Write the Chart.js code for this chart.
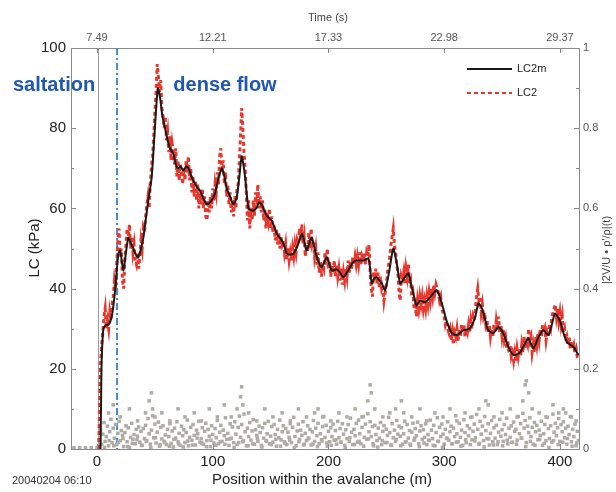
<!DOCTYPE html>
<html>
<head>
<meta charset="utf-8">
<script src="https://cdn.jsdelivr.net/npm/chart.js@4.4.0/dist/chart.umd.min.js"></script>
<style>
html, body { margin: 0; padding: 0; background: #fff; }
</style>
</head>
<body>
<canvas id="chart" width="616" height="492"></canvas>
<script>
// LC2m: smoothed load cell pressure (kPa) vs position (m)
var lc2mPoints = [[3,0],[3.5,12],[4,22],[5.5,30],[8,31],[10,31],[12.7,33],[15.6,39.5],[18.4,48.7],[20,49.5],[22.7,44.5],[25,49],[27,52.7],[29,51.5],[31.4,50],[33.5,48.5],[35.7,47.8],[38,50],[40,52.7],[42,57],[44.3,62],[47.2,67.7],[50,80],[52.5,90],[54.5,87.6],[56.5,83],[58.8,80],[61,77],[63,75],[66,73.6],[68,71],[70,70],[72,70.5],[74.6,69.4],[77,70.5],[79,70],[81,68.5],[83,67],[86,65.5],[89,64.4],[92,62.5],[94.8,61],[97.7,61.5],[100.5,62.7],[102,63.7],[104,66.5],[107.8,70],[110,68],[112,65],[115,63],[117.8,61],[120.7,62.7],[123,68],[125,73],[127,70],[128,67.7],[130.8,60],[133,59.6],[135,59.4],[138,60.2],[140,61.5],[142.3,61],[144.5,59.5],[146.6,58.2],[149,57.5],[151,57],[153,55.5],[155.3,53.7],[159.6,52],[162,50.5],[164,48.7],[167,48.5],[169.7,48.7],[172.6,50.2],[175,52],[177,53.7],[179,52],[181,49.5],[183,51],[185.5,52.7],[188,50],[190,47.8],[194,45.3],[198.5,47.8],[202.8,44.5],[207,44.8],[210,44],[213,42.8],[216,44],[218.7,45.3],[221,46.5],[224.4,47],[230,47],[234.5,47.5],[236,45],[237.4,41.3],[239.5,42.5],[241.7,42.8],[244,42],[246,41.3],[249,39.6],[252.6,44.5],[256,50],[259,46.3],[262,41.3],[266,42.8],[269,43.8],[272,40.3],[274,38],[276,35.8],[279,37],[283.5,36.6],[287.8,37.8],[291,39],[293.6,39.6],[298,36.3],[302,32],[306.5,28.9],[311,28.4],[316.6,29.6],[322,30],[326.7,32.8],[329.5,36.3],[332,35.5],[334,33.8],[338,29.6],[342.5,28.9],[347,30.4],[351,28.9],[355.5,25.4],[360,23.4],[365.6,24.1],[370,26.4],[372.8,27.6],[377,25.1],[381.5,27.9],[385.7,29.6],[390,28.4],[393,31],[395.8,33.8],[400,32],[403,29],[406,26.6],[409,26],[412,25.4],[416,23.4]];

// LC2: raw load cell pressure (kPa)
var lc2Points = [[1.5,0],[2,8],[2.5,15],[3,21],[4,26],[5,29],[6,33],[7,35],[8,30],[9,32],[10,30],[11,34],[12,32],[13,36],[14,38],[15,42],[16,40],[17,46],[18,52],[19,55],[20,48],[21,50],[22,42],[23,40],[24,47],[25,51],[26,55],[27,53],[28,56],[29,50],[30,53],[31,49],[32,51],[33,47],[34,46],[35,49],[36,45],[37,48],[38,52],[39,50],[40,55],[41,54],[42,58],[43,61],[44,63],[45,60],[46,66],[47,70],[48,73],[49,78],[50,84],[51,89],[52,96],[53,93],[54,89],[55,92],[56,85],[57,83],[58,80],[59,83],[60,77],[61,79],[62,74],[63,78],[64,72],[65,76],[66,74],[67,71],[68,75],[69,68],[70,72],[71,67],[72,71],[73,69],[74,66],[75,70],[76,67],[77,72],[78,69],[79,73],[80,67],[81,70],[82,64],[83,68],[84,63],[85,67],[86,62],[87,66],[88,60],[89,64],[90,61],[91,65],[92,60],[93,63],[94,58],[95,57],[96,62],[97,59],[98,63],[99,60],[100,65],[101,62],[102,66],[103,64],[104,69],[105,66],[106,73],[107,75],[108,69],[109,72],[110,66],[111,69],[112,63],[113,66],[114,61],[115,64],[116,59],[117,62],[118,58],[119,63],[120,60],[121,65],[122,66],[123,72],[124,78],[125,85],[126,80],[127,74],[128,70],[129,64],[130,57],[131,62],[132,55],[133,60],[134,57],[135,62],[136,58],[137,64],[138,61],[139,66],[140,60],[141,63],[142,59],[143,62],[144,57],[145,60],[146,55],[147,59],[148,57],[149,60],[150,55],[151,58],[152,54],[153,56],[154,52],[155,55],[156,51],[157,54],[158,50],[159,53],[160,51],[161,52],[162,49],[163,51],[164,47],[165,50],[166,47],[167,49],[168,47],[169,50],[170,48],[171,51],[172,49],[173,52],[174,51],[175,55],[176,52],[177,56],[178,51],[179,53],[180,48],[181,51],[182,49],[183,54],[184,50],[185,55],[186,51],[187,52],[188,48],[189,50],[190,46],[191,49],[192,44],[193,47],[194,43],[195,46],[196,45],[197,49],[198,46],[199,50],[200,45],[201,47],[202,43],[203,46],[204,44],[205,47],[206,43],[207,46],[208,43],[209,45],[210,42],[211,45],[212,41],[213,44],[214,42],[215,45],[216,43],[217,47],[218,44],[219,47],[220,45],[221,48],[222,46],[223,48],[224,46],[225,48],[226,46],[227,49],[228,46],[229,48],[230,47],[231,49],[232,46],[233,49],[234,48],[235,51],[236,44],[237,40],[238,38],[239,44],[240,42],[241,45],[242,41],[243,44],[244,40],[245,43],[246,40],[247,41],[248,37],[249,39],[250,41],[251,44],[252,46],[253,48],[254,51],[255,53],[256,55],[257,51],[258,49],[259,46],[260,44],[261,39],[262,37],[263,43],[264,42],[265,44],[266,41],[267,45],[268,43],[269,46],[270,41],[271,42],[272,38],[273,39],[274,35],[275,36],[276,33],[277,37],[278,35],[279,38],[280,36],[281,38],[282,35],[283,37],[284,35],[285,38],[286,36],[287,39],[288,37],[289,40],[290,38],[291,41],[292,39],[293,41],[294,40],[295,39],[296,37],[297,38],[298,35],[299,34],[300,33],[301,31],[302,32],[303,30],[304,29],[305,30],[306,27],[307,29],[308,26],[309,29],[310,28],[311,30],[312,27],[313,30],[314,28],[315,31],[316,29],[317,31],[318,28],[319,30],[320,29],[321,31],[322,29],[323,32],[324,30],[325,33],[326,32],[327,35],[328,38],[329,40],[330,37],[331,38],[332,34],[333,36],[334,33],[335,34],[336,31],[337,32],[338,29],[339,31],[340,28],[341,30],[342,28],[343,31],[344,29],[345,32],[346,30],[347,33],[348,29],[349,31],[350,28],[351,30],[352,27],[353,28],[354,25],[355,27],[356,24],[357,26],[358,23],[359,24],[360,22],[361,24],[362,22],[363,25],[364,23],[365,25],[366,23],[367,26],[368,24],[369,28],[370,25],[371,27],[372,26],[373,30],[374,27],[375,28],[376,24],[377,26],[378,24],[379,28],[380,26],[381,29],[382,27],[383,30],[384,28],[385,31],[386,29],[387,30],[388,27],[389,29],[390,28],[391,31],[392,30],[393,33],[394,34],[395,35],[396,36],[397,33],[398,35],[399,32],[400,34],[401,31],[402,33],[403,29],[404,30],[405,27],[406,28],[407,26],[408,28],[409,25],[410,27],[411,25],[412,26],[413,24],[414,25],[415,23],[416,23]];

// |2V/U * rho'/rho|(t), right axis: main band
var grayLow = [[-20,.003],[-15,.003],[-10,.003],[-5,.003],[0,.004],
[2,.023],[3,.048],[4,.012],[5,.037],[6,.066],[7,.019],[8,.031],[9,.057],[10,.008],[11,.043],[12,.074],[13,.016],[14,.052],[15,.027],[16,.061],[17,.011],[18,.039],[19,.069],[20,.021],[21,.046],
[22,.034],[23,.006],[24,.041],[25,.058],[26,.018],[27,.053],[28,.004],[29,.029],[30,.064],[31,.024],[32,.036],[33,.013],[34,.049],[35,.032],[36,.055],[37,.017],[38,.044],[39,.009],[40,.051],[41,.026],
[42,.059],[43,.021],[44,.076],[45,.038],[46,.012],[47,.047],[48,.083],[49,.028],[50,.062],[51,.015],[52,.042],[53,.067],[54,.007],[55,.054],[56,.025],[57,.058],[58,.019],[59,.035],[60,.011],[61,.049],
[62,.031],[63,.063],[64,.014],[65,.045],[66,.005],[67,.052],[68,.027],[69,.068],[70,.018],[71,.039],[72,.009],[73,.057],[74,.033],[75,.048],[76,.016],[77,.041],[78,.072],[79,.008],[80,.029],[81,.054],
[82,.022],[83,.061],[84,.034],[85,.010],[86,.047],[87,.038],[88,.069],[89,.017],[90,.026],[91,.053],[92,.012],[93,.044],[94,.064],[95,.021],[96,.049],[97,.032],[98,.006],[99,.058],[100,.036],[101,.015],
[102,.051],[103,.028],[104,.071],[105,.013],[106,.042],[107,.059],[108,.019],[109,.047],[110,.033],[111,.078],[112,.024],[113,.039],[114,.009],[115,.063],[116,.027],[117,.055],[118,.016],[119,.068],[120,.037],[121,.011],
[122,.054],[123,.082],[124,.029],[125,.061],[126,.018],[127,.087],[128,.043],[129,.008],[130,.052],[131,.031],[132,.066],[133,.022],[134,.045],[135,.073],[136,.012],[137,.048],[138,.034],[139,.019],[140,.057],[141,.041],
[142,.009],[143,.053],[144,.027],[145,.064],[146,.021],[147,.038],[148,.069],[149,.013],[150,.032],[151,.056],[152,.017],[153,.061],[154,.036],[155,.007],[156,.049],[157,.028],[158,.072],[159,.023],[160,.043],[161,.058],
[162,.018],[163,.051],[164,.011],[165,.042],[166,.029],[167,.063],[168,.016],[169,.054],[170,.079],[171,.031],[172,.008],[173,.045],[174,.062],[175,.024],[176,.047],[177,.034],[178,.068],[179,.012],[180,.039],[181,.021],
[182,.058],[183,.027],[184,.049],[185,.010],[186,.043],[187,.071],[188,.019],[189,.052],[190,.033],[191,.064],[192,.013],[193,.038],[194,.023],[195,.056],[196,.081],[197,.029],[198,.059],[199,.007],[200,.044],[201,.018],
[202,.053],[203,.031],[204,.062],[205,.022],[206,.046],[207,.012],[208,.069],[209,.028],[210,.051],[211,.017],[212,.063],[213,.037],[214,.009],[215,.048],[216,.026],[217,.061],[218,.019],[219,.077],[220,.042],[221,.011],
[222,.049],[223,.033],[224,.064],[225,.017],[226,.072],[227,.038],[228,.013],[229,.054],[230,.081],[231,.029],[232,.062],[233,.024],[234,.088],[235,.043],[236,.068],[237,.031],[238,.056],[239,.008],[240,.059],[241,.036],
[242,.021],[243,.052],[244,.027],[245,.066],[246,.011],[247,.044],[248,.058],[249,.016],[250,.049],[251,.034],[252,.079],[253,.041],[254,.009],[255,.063],[256,.028],[257,.047],[258,.019],[259,.071],[260,.037],[261,.057],
[262,.032],[263,.053],[264,.012],[265,.038],[266,.069],[267,.018],[268,.061],[269,.027],[270,.046],[271,.009],[272,.042],[273,.064],[274,.022],[275,.051],[276,.033],[277,.067],[278,.013],[279,.045],[280,.058],[281,.024],
[282,.048],[283,.029],[284,.063],[285,.011],[286,.036],[287,.021],[288,.072],[289,.047],[290,.026],[291,.059],[292,.008],[293,.041],[294,.078],[295,.019],[296,.054],[297,.031],[298,.062],[299,.037],[300,.012],[301,.049],
[302,.027],[303,.068],[304,.022],[305,.043],[306,.057],[307,.013],[308,.052],[309,.031],[310,.083],[311,.038],[312,.018],[313,.064],[314,.029],[315,.047],[316,.009],[317,.073],[318,.041],[319,.016],[320,.058],[321,.033],
[322,.051],[323,.079],[324,.023],[325,.044],[326,.062],[327,.028],[328,.086],[329,.049],[330,.012],[331,.069],[332,.037],[333,.057],[334,.021],[335,.081],[336,.046],[337,.026],[338,.063],[339,.010],[340,.039],[341,.071],
[342,.018],[343,.053],[344,.027],[345,.059],[346,.011],[347,.042],[348,.074],[349,.032],[350,.048],[351,.019],[352,.061],[353,.036],[354,.077],[355,.013],[356,.052],[357,.029],[358,.058],[359,.017],[360,.067],[361,.044],
[362,.049],[363,.022],[364,.081],[365,.038],[366,.063],[367,.027],[368,.089],[369,.052],[370,.071],[371,.016],[372,.057],[373,.041],[374,.078],[375,.031],[376,.054],[377,.012],[378,.066],[379,.043],[380,.059],[381,.023],
[382,.047],[383,.034],[384,.069],[385,.009],[386,.038],[387,.061],[388,.021],[389,.079],[390,.051],[391,.026],[392,.058],[393,.017],[394,.087],[395,.042],[396,.064],[397,.033],[398,.053],[399,.076],[400,.019],[401,.061],
[402,.043],[403,.068],[404,.028],[405,.052],[406,.012],[407,.057],[408,.036],[409,.081],[410,.018],[411,.049],[412,.031],[413,.062],[414,.008],[415,.044],[416,.021]];

// same ratio: points packed close to zero
var grayFloor = [[2.5,.012],[6.5,.004],[10.5,.021],[14.5,.008],[18.5,.017],[22.5,.026],[26.5,.006],[30.5,.014],[34.5,.023],[38.5,.009],[42.5,.019],[46.5,.003],[50.5,.028],[54.5,.011],[58.5,.016],[62.5,.007],[66.5,.024],[70.5,.013],[74.5,.005],[78.5,.02],
[82.5,.01],[86.5,.027],[90.5,.015],[94.5,.006],[98.5,.022],[102.5,.009],[106.5,.018],[110.5,.012],[114.5,.025],[118.5,.004],[122.5,.016],[126.5,.021],[130.5,.008],[134.5,.013],[138.5,.027],[142.5,.005],[146.5,.019],[150.5,.011],[154.5,.024],[158.5,.007],
[162.5,.014],[166.5,.022],[170.5,.003],[174.5,.018],[178.5,.01],[182.5,.026],[186.5,.012],[190.5,.006],[194.5,.02],[198.5,.015],[202.5,.009],[206.5,.023],[210.5,.017],[214.5,.004],[218.5,.028],[222.5,.011],[226.5,.019],[230.5,.007],[234.5,.025],[238.5,.013],
[242.5,.005],[246.5,.021],[250.5,.016],[254.5,.01],[258.5,.024],[262.5,.008],[266.5,.018],[270.5,.012],[274.5,.027],[278.5,.006],[282.5,.015],[286.5,.022],[290.5,.009],[294.5,.019],[298.5,.004],[302.5,.026],[306.5,.013],[310.5,.017],[314.5,.007],[318.5,.023],
[322.5,.011],[326.5,.02],[330.5,.014],[334.5,.005],[338.5,.025],[342.5,.01],[346.5,.018],[350.5,.008],[354.5,.022],[358.5,.016],[362.5,.012],[366.5,.027],[370.5,.006],[374.5,.019],[378.5,.009],[382.5,.024],[386.5,.014],[390.5,.004],[394.5,.021],[398.5,.011],
[402.5,.017],[406.5,.026],[410.5,.007],[414.5,.015]];

// sparse higher points of the same ratio
var grayHigh = [[10,.09],[14,.11],[20,.08],[28,.1],[35,.07],[42,.09],[45,.12],[47,.14],[48,.1],[50,.08],[56,.09],[63,.07],[70,.1],[76,.08],[84,.09],[90,.07],[97,.1],[104,.08],[110,.11],[116,.08],[121,.1],[124,.13],[125,.155],[126,.11],[131,.09],[138,.07],[145,.1],[152,.08],[160,.09],[167,.07],[174,.1],[181,.08],[188,.09],[191,.1],[195,.08],[202,.07],[209,.09],[216,.08],[223,.1],[229,.08],[234,.12],[236,.16],[237,.14],[240,.1],[247,.08],[253,.09],[258,.1],[263,.12],[265,.09],[272,.08],[279,.1],[285,.07],[292,.09],[299,.08],[305,.1],[311,.07],[318,.09],[324,.08],[330,.1],[336,.12],[338,.11],[343,.08],[350,.09],[357,.1],[363,.08],[368,.12],[370,.16],[371,.17],[373,.14],[376,.1],[382,.09],[388,.08],[394,.11],[399,.09],[403,.1],[405,.09],[410,.08],[414,.07]];

var positionTicks = [0, 100, 200, 300, 400];
var timeTickLabels = ['7.49', '12.21', '17.33', '22.98', '29.37'];
var lcTicks = [0, 20, 40, 60, 80, 100];
var ratioTicks = [0, 0.2, 0.4, 0.6, 0.8, 1];
var recordStart = 1;      // position of the 7.49 s mark line
var saltationEnd = 17.3;  // saltation / dense flow boundary

var FONT = "'Liberation Sans', Arial, sans-serif";

function toXY(arr) {
    return arr.map(function (p) { return { x: p[0], y: p[1] }; });
}

var decor = {
    id: 'decor',
    beforeDatasetsDraw: function (chart) {
        var ctx = chart.ctx, a = chart.chartArea, x = chart.scales.x;
        ctx.save();
        // thin grey line at start of record
        var gx = Math.round(x.getPixelForValue(recordStart)) + 0.5;
        ctx.strokeStyle = '#9a9a9a';
        ctx.lineWidth = 1;
        ctx.beginPath(); ctx.moveTo(gx, a.top); ctx.lineTo(gx, a.bottom); ctx.stroke();
        // blue dash-dot separator
        var bx = x.getPixelForValue(saltationEnd);
        ctx.strokeStyle = '#4a8ad4';
        ctx.lineWidth = 2;
        ctx.setLineDash([7, 3, 2, 3]);
        ctx.beginPath(); ctx.moveTo(bx, a.top); ctx.lineTo(bx, a.bottom); ctx.stroke();
        ctx.restore();
    },
    afterDraw: function (chart) {
        var ctx = chart.ctx, a = chart.chartArea;
        var sx = chart.scales.x, sy = chart.scales.y, sy2 = chart.scales.y2;
        ctx.save();

        // inside tick marks
        ctx.strokeStyle = '#8a8a8a';
        ctx.lineWidth = 1;
        ctx.beginPath();
        positionTicks.forEach(function (v) {
            var px = Math.round(sx.getPixelForValue(v)) + 0.5;
            ctx.moveTo(px, a.bottom); ctx.lineTo(px, a.bottom - 5);
            ctx.moveTo(px, a.top); ctx.lineTo(px, a.top + 5);
        });
        for (var v = 0; v <= 100; v += 10) {
            var py = Math.round(sy.getPixelForValue(v)) + 0.5;
            var len = v % 20 === 0 ? 5 : 3;
            ctx.moveTo(a.left, py); ctx.lineTo(a.left + len, py);
            var py2 = Math.round(sy2.getPixelForValue(v / 100)) + 0.5;
            ctx.moveTo(a.right, py2); ctx.lineTo(a.right - len, py2);
        }
        ctx.stroke();

        // legend
        var lx0 = 467, lx1 = 512;
        ctx.lineWidth = 2;
        ctx.strokeStyle = chart.data.datasets[0].borderColor;
        ctx.beginPath(); ctx.moveTo(lx0, 69); ctx.lineTo(lx1, 69); ctx.stroke();
        ctx.strokeStyle = chart.data.datasets[1].borderColor;
        ctx.setLineDash([4, 3]);
        ctx.beginPath(); ctx.moveTo(lx0, 93); ctx.lineTo(lx1, 93); ctx.stroke();
        ctx.setLineDash([]);
        ctx.fillStyle = '#222';
        ctx.font = '11px ' + FONT;
        ctx.textAlign = 'left';
        ctx.textBaseline = 'middle';
        ctx.fillText(chart.data.datasets[0].label, 517, 69);
        ctx.fillText(chart.data.datasets[1].label, 517, 93);

        // axis titles
        ctx.textAlign = 'center';
        ctx.fillStyle = '#444';
        ctx.font = '11px ' + FONT;
        ctx.fillText('Time (s)', 328, 18);
        ctx.fillStyle = '#222';
        ctx.font = '15px ' + FONT;
        ctx.fillText('Position within the avalanche (m)', 322, 480);
        ctx.save();
        ctx.translate(35, 248);
        ctx.rotate(-Math.PI / 2);
        ctx.fillText('LC (kPa)', 0, 0);
        ctx.restore();
        ctx.save();
        ctx.translate(607, 250);
        ctx.rotate(-Math.PI / 2);
        ctx.fillStyle = '#444';
        ctx.font = '11px ' + FONT;
        ctx.fillText('|2V/U \u2022 \u03C1\'/\u03C1|(t)', 0, 0);
        ctx.restore();

        ctx.textAlign = 'left';
        ctx.fillStyle = '#333';
        ctx.font = '11px ' + FONT;
        ctx.fillText('20040204 06:10', 12, 481);

        // regime annotations
        ctx.fillStyle = '#1f57b2';
        ctx.font = 'bold 20px ' + FONT;
        ctx.textAlign = 'center';
        ctx.fillText('saltation', 54, 85);
        ctx.fillText('dense flow', 225, 85);
        ctx.restore();
    }
};

var axisBorder = { display: true, color: '#8a8a8a', width: 1 };
var noGrid = { display: true, drawOnChartArea: false, drawTicks: false };

new Chart(document.getElementById('chart').getContext('2d'), {
    type: 'line',
    data: {
        datasets: [{
            label: 'LC2m',
            data: toXY(lc2mPoints),
            borderColor: '#1a1a1a',
            borderWidth: 2,
            pointRadius: 0,
            tension: 0.2,
            xAxisID: 'x',
            yAxisID: 'y'
        }, {
            label: 'LC2',
            data: toXY(lc2Points),
            borderColor: '#e8362c',
            borderWidth: 3,
            borderDash: [4, 3],
            pointRadius: 0,
            tension: 0,
            xAxisID: 'x',
            yAxisID: 'y'
        }, {
            type: 'scatter',
            label: 'ratio',
            data: toXY(grayLow.concat(grayFloor, grayHigh)),
            backgroundColor: '#adaca5',
            pointStyle: 'rect',
            pointRadius: 2.5,
            borderWidth: 0,
            xAxisID: 'x',
            yAxisID: 'y2'
        }]
    },
    options: {
        responsive: false,
        animation: false,
        devicePixelRatio: 1,
        layout: { padding: 0 },
        plugins: { legend: { display: false }, tooltip: { enabled: false } },
        scales: {
            x: {
                type: 'linear', position: 'bottom', min: -22.5, max: 416.5,
                afterBuildTicks: function (s) { s.ticks = positionTicks.map(function (v) { return { value: v }; }); },
                afterFit: function (s) { s.height = 43; },
                grid: noGrid, border: axisBorder,
                ticks: { font: { family: FONT, size: 15 }, color: '#222', padding: 4, maxRotation: 0, autoSkip: false }
            },
            x2: {
                type: 'linear', position: 'top', min: -22.5, max: 416.5,
                afterBuildTicks: function (s) { s.ticks = positionTicks.map(function (v) { return { value: v }; }); },
                afterFit: function (s) { s.height = 48; },
                grid: noGrid, border: axisBorder,
                ticks: {
                    font: { family: FONT, size: 11 }, color: '#555', padding: 3, maxRotation: 0, autoSkip: false,
                    callback: function (v, i) { return timeTickLabels[i]; }
                }
            },
            y: {
                type: 'linear', position: 'left', min: 0, max: 100,
                afterBuildTicks: function (s) { s.ticks = lcTicks.map(function (v) { return { value: v }; }); },
                afterFit: function (s) { s.width = 71; },
                grid: noGrid, border: axisBorder,
                ticks: { font: { family: FONT, size: 15 }, color: '#222', padding: 5 }
            },
            y2: {
                type: 'linear', position: 'right', min: 0, max: 1,
                afterBuildTicks: function (s) { s.ticks = ratioTicks.map(function (v) { return { value: v }; }); },
                afterFit: function (s) { s.width = 37; },
                grid: noGrid, border: axisBorder,
                ticks: {
                    font: { family: FONT, size: 11 }, color: '#555', padding: 4,
                    callback: function (v) { return String(v); }
                }
            }
        }
    },
    plugins: [decor]
});
</script>
</body>
</html>
